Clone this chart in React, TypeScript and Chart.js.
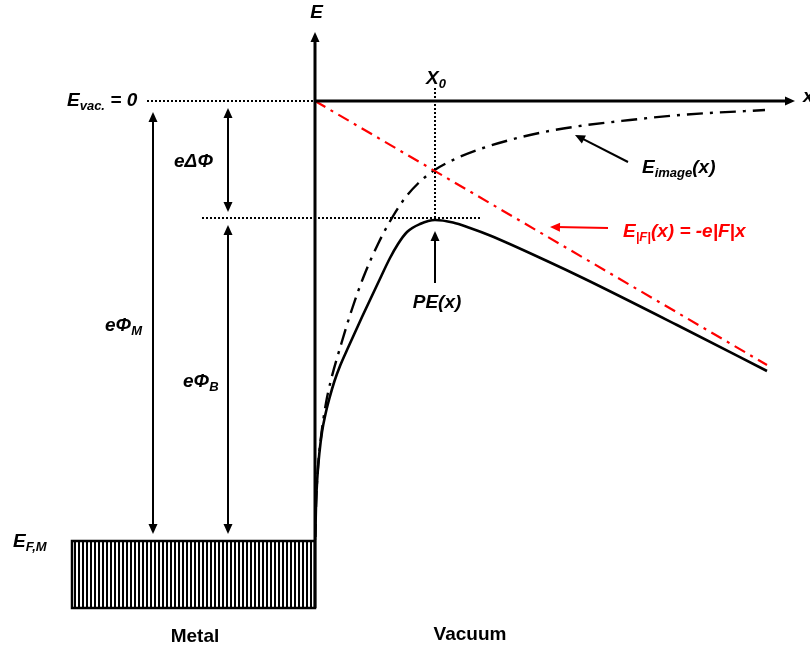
import React, { useEffect, useRef } from "react";
import { Chart, registerables } from "chart.js";
Chart.register(...registerables);

// ---- Energy levels (eV) ----
const PHI_M = 4.4; // metal work function (E_F,M below E_vac)
const DELTA_PHI = 1.17; // barrier lowering
const X0 = 2.4; // position of barrier maximum
const METAL_LEFT = -4.86;
const METAL_BOTTOM = -5.07;

// ---- Curves (x in nm-like units, E in eV) ----
const peX = [0.006, 0.02, 0.05, 0.09, 0.14, 0.21, 0.29, 0.39, 0.5, 0.64, 0.94, 1.26, 1.5, 1.66, 1.84, 2.1, 2.4, 2.76, 3.1, 3.5, 4.64, 5.4, 7.24, 9.04];
const peE = [-4.36, -4.04, -3.74, -3.51, -3.31, -3.13, -2.97, -2.8, -2.65, -2.49, -2.16, -1.82, -1.57, -1.43, -1.31, -1.23, -1.19, -1.215, -1.27, -1.345, -1.6, -1.78, -2.24, -2.7];

const imageX = [0.004, 0.024, 0.056, 0.12, 0.22, 0.32, 0.53, 0.734, 0.97, 1.27, 1.55, 1.8, 2.06, 2.36, 2.8, 3.3, 4.3, 5.16, 6.3, 7.3, 9.0];
const imageE = [-4.39, -3.99, -3.69, -3.36, -3.02, -2.79, -2.42, -2.09, -1.76, -1.42, -1.16, -0.97, -0.825, -0.7, -0.58, -0.48, -0.34, -0.26, -0.19, -0.14, -0.09];

const fieldX = [0, 9.04];
const fieldE = [0, -2.64];

// ---- Guide lines ----
const vacDotX = [-3.36, 0];
const barrierDotX = [-2.26, 3.3];
const x0DotE = [0.13, -DELTA_PHI];

const zip = (xs: number[], ys: number[]) => xs.map((x, i) => ({ x, y: ys[i] }));

type Arrow = { from: [number, number]; to: [number, number]; both?: boolean; color?: string; width?: number };
const arrows: Arrow[] = [
  { from: [0, METAL_BOTTOM], to: [0, 0.69], width: 3 },
  { from: [0, 0], to: [9.6, 0], width: 3 },
  { from: [-3.24, -4.33], to: [-3.24, -0.11], both: true, width: 2 },
  { from: [-1.74, -1.11], to: [-1.74, -0.07], both: true, width: 2 },
  { from: [-1.74, -4.33], to: [-1.74, -1.24], both: true, width: 2 },
  { from: [X0, -1.82], to: [X0, -1.3], width: 2 },
  { from: [6.26, -0.61], to: [5.2, -0.34], width: 2 },
  { from: [5.86, -1.27], to: [4.7, -1.26], width: 2, color: "#ff0000" },
];

type Part = { t: string; sub?: boolean };
type Label = { parts: Part[]; x: number; e: number; align: "left" | "center" | "right"; italic?: boolean; color?: string };
const labels: Label[] = [
  { parts: [{ t: "E" }], x: 0.03, e: 0.83, align: "center", italic: true },
  { parts: [{ t: "E" }, { t: "vac.", sub: true }, { t: " = 0" }], x: -4.96, e: -0.05, align: "left", italic: true },
  { parts: [{ t: "X" }, { t: "0", sub: true }], x: 2.42, e: 0.17, align: "center", italic: true },
  { parts: [{ t: "x" }], x: 9.76, e: -0.01, align: "left", italic: true },
  { parts: [{ t: "E" }, { t: "image", sub: true }, { t: "(x)" }], x: 6.54, e: -0.72, align: "left", italic: true },
  { parts: [{ t: "E" }, { t: "|F|", sub: true }, { t: "(x) = -e|F|x" }], x: 6.16, e: -1.36, align: "left", italic: true, color: "#ff0000" },
  { parts: [{ t: "PE(x)" }], x: 2.44, e: -2.07, align: "center", italic: true },
  { parts: [{ t: "eΔΦ" }], x: -2.04, e: -0.66, align: "right", italic: true },
  { parts: [{ t: "eΦ" }, { t: "B", sub: true }], x: -2.64, e: -2.86, align: "left", italic: true },
  { parts: [{ t: "eΦ" }, { t: "M", sub: true }], x: -4.2, e: -2.3, align: "left", italic: true },
  { parts: [{ t: "E" }, { t: "F,M", sub: true }], x: -6.04, e: -4.46, align: "left", italic: true },
  { parts: [{ t: "Metal" }], x: -2.4, e: -5.41, align: "center" },
  { parts: [{ t: "Vacuum" }], x: 3.1, e: -5.39, align: "center" },
];

const FONT = '"Liberation Sans", Arial, sans-serif';

function drawRich(ctx: CanvasRenderingContext2D, l: Label, px: number, py: number) {
  const style = l.italic ? "italic bold" : "bold";
  const mainF = `${style} 19px ${FONT}`;
  const subF = `${style} 13px ${FONT}`;
  const widths = l.parts.map((p) => {
    ctx.font = p.sub ? subF : mainF;
    return ctx.measureText(p.t).width;
  });
  const total = widths.reduce((a, b) => a + b, 0);
  let sx = l.align === "center" ? px - total / 2 : l.align === "right" ? px - total : px;
  ctx.fillStyle = l.color || "#000";
  ctx.textAlign = "left";
  ctx.textBaseline = "alphabetic";
  l.parts.forEach((p, i) => {
    ctx.font = p.sub ? subF : mainF;
    ctx.fillText(p.t, sx, p.sub ? py + 4 : py);
    sx += widths[i];
  });
}

function head(ctx: CanvasRenderingContext2D, tx: number, ty: number, fx: number, fy: number, color: string) {
  const dx = tx - fx, dy = ty - fy;
  const len = Math.hypot(dx, dy) || 1;
  const ux = dx / len, uy = dy / len;
  const L = 10, W = 4.5;
  ctx.beginPath();
  ctx.moveTo(tx, ty);
  ctx.lineTo(tx - ux * L - uy * W, ty - uy * L + ux * W);
  ctx.lineTo(tx - ux * L + uy * W, ty - uy * L - ux * W);
  ctx.closePath();
  ctx.fillStyle = color;
  ctx.fill();
}

const annotPlugin = {
  id: "annot",
  beforeDatasetsDraw(chart: any) {
    const ctx: CanvasRenderingContext2D = chart.ctx;
    const xs = chart.scales.x, ys = chart.scales.y;
    // metal block with vertical hatching
    const l = xs.getPixelForValue(METAL_LEFT), r = xs.getPixelForValue(0);
    const t = ys.getPixelForValue(-PHI_M), b = ys.getPixelForValue(METAL_BOTTOM);
    ctx.save();
    ctx.fillStyle = "#fff";
    ctx.fillRect(l, t, r - l, b - t);
    ctx.strokeStyle = "#000";
    ctx.lineWidth = 2;
    for (let x = l + 3; x < r - 1; x += 4) {
      ctx.beginPath();
      ctx.moveTo(x, t);
      ctx.lineTo(x, b);
      ctx.stroke();
    }
    ctx.lineWidth = 2.5;
    ctx.strokeRect(l, t, r - l, b - t);
    ctx.restore();
  },
  afterDatasetsDraw(chart: any) {
    const ctx: CanvasRenderingContext2D = chart.ctx;
    const xs = chart.scales.x, ys = chart.scales.y;
    ctx.save();
    arrows.forEach((a) => {
      const fx = xs.getPixelForValue(a.from[0]), fy = ys.getPixelForValue(a.from[1]);
      const tx = xs.getPixelForValue(a.to[0]), ty = ys.getPixelForValue(a.to[1]);
      const color = a.color || "#000";
      const dx = tx - fx, dy = ty - fy;
      const len = Math.hypot(dx, dy);
      const ux = dx / len, uy = dy / len;
      ctx.strokeStyle = color;
      ctx.lineWidth = a.width || 2;
      ctx.lineCap = "butt";
      ctx.beginPath();
      ctx.moveTo(a.both ? fx + ux * 6 : fx, a.both ? fy + uy * 6 : fy);
      ctx.lineTo(tx - ux * 6, ty - uy * 6);
      ctx.stroke();
      head(ctx, tx, ty, fx, fy, color);
      if (a.both) head(ctx, fx, fy, tx, ty, color);
    });
    labels.forEach((lb) => drawRich(ctx, lb, xs.getPixelForValue(lb.x), ys.getPixelForValue(lb.e)));
    ctx.restore();
  },
};

export default function App() {
  const ref = useRef<HTMLCanvasElement>(null);
  useEffect(() => {
    const dotted = { borderColor: "#000", borderWidth: 2, borderDash: [2, 2], pointRadius: 0, showLine: true, borderCapStyle: "butt" as const };
    const chart = new Chart(ref.current!, {
      type: "scatter",
      data: {
        datasets: [
          { ...dotted, data: zip(vacDotX, [0, 0]) },
          { ...dotted, data: zip(barrierDotX, [-DELTA_PHI, -DELTA_PHI]) },
          { ...dotted, data: zip([X0, X0], x0DotE) },
          {
            data: zip(fieldX, fieldE),
            showLine: true,
            borderColor: "#ff0000",
            borderWidth: 2.2,
            borderDash: [12, 6, 3, 6],
            pointRadius: 0,
          },
          {
            data: zip(imageX, imageE),
            showLine: true,
            borderColor: "#000",
            borderWidth: 2.4,
            borderDash: [16, 7, 3, 7],
            pointRadius: 0,
            cubicInterpolationMode: "monotone",
          },
          {
            data: zip(peX, peE),
            showLine: true,
            borderColor: "#000",
            borderWidth: 2.6,
            pointRadius: 0,
            cubicInterpolationMode: "monotone",
          },
        ],
      },
      options: {
        responsive: false,
        animation: false,
        devicePixelRatio: 1,
        layout: { padding: 0 },
        scales: {
          x: { type: "linear", min: -6.3, max: 9.9, display: false },
          y: { type: "linear", min: -5.48, max: 1.01, display: false },
        },
        plugins: { legend: { display: false }, tooltip: { enabled: false } },
        events: [],
      },
      plugins: [annotPlugin],
    });
    return () => chart.destroy();
  }, []);
  return (
    <div style={{ position: "fixed", left: 0, top: 0, width: 810, height: 649, background: "#fff" }}>
      <canvas ref={ref} width={810} height={649} style={{ display: "block", width: 810, height: 649 }} />
    </div>
  );
}
